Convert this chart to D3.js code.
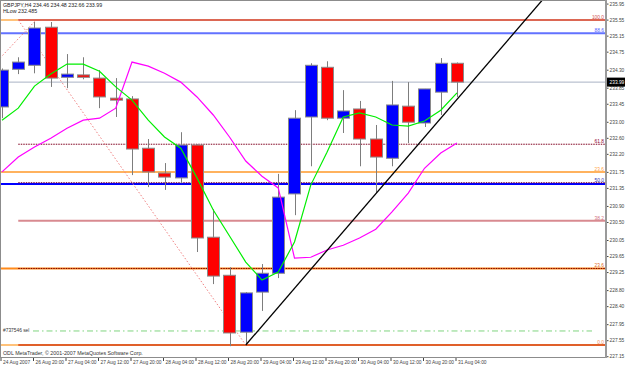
<!DOCTYPE html>
<html>
<head>
<meta charset="utf-8">
<script src="https://cdn.jsdelivr.net/npm/d3@7"></script>
<style>
body { margin: 0; background: #fff; }
svg { display: block; font-family: "Liberation Sans", Arial, sans-serif; }
</style>
</head>
<body>
<svg id="chart" width="625" height="367"></svg>
<script>
// GBPJPY H4 candles, index 0 = leftmost (cut) bar
const opens  = [233.37, 234.31, 234.41, 235.36, 234.11, 234.17, 234.09, 233.59, 233.57, 232.34, 231.72, 231.60, 232.42, 230.12, 229.17, 227.75, 228.75, 229.22, 231.20, 233.12, 234.36, 233.09, 233.32, 232.57, 232.09, 233.39, 232.97, 233.74, 234.46];
const highs  = [234.33, 234.61, 235.49, 235.49, 234.69, 234.61, 234.29, 234.09, 233.64, 232.57, 231.97, 232.74, 232.44, 230.82, 229.37, 228.75, 229.45, 231.70, 233.29, 234.46, 234.51, 233.79, 233.52, 232.92, 234.02, 233.99, 233.82, 234.59, 234.48];
const lows   = [233.09, 234.19, 234.21, 233.87, 233.84, 234.06, 233.34, 233.12, 231.67, 231.37, 231.30, 231.47, 229.75, 228.95, 227.40, 227.43, 228.28, 229.10, 230.67, 231.89, 233.04, 232.72, 231.89, 231.22, 231.89, 232.47, 232.87, 233.17, 233.62];
const closes = [234.29, 234.49, 235.34, 234.09, 234.19, 234.11, 233.62, 233.54, 232.32, 231.75, 231.62, 232.42, 230.10, 229.15, 227.73, 228.73, 229.22, 231.12, 233.09, 234.41, 233.09, 233.27, 232.57, 232.12, 233.42, 232.99, 233.82, 234.46, 233.99];

// moving averages (green fast, magenta slow)
const fastMA = [233.04, 233.34, 233.89, 234.19, 234.44, 234.44, 234.26, 233.87, 233.54, 233.04, 232.62, 232.34, 231.60, 230.80, 230.15, 229.50, 229.05, 229.25, 230.00, 231.42, 232.24, 233.12, 233.22, 233.12, 232.92, 232.89, 233.02, 233.29, 233.72];
const slowMA = [231.75, 232.12, 232.37, 232.59, 232.84, 233.04, 233.09, 233.34, 234.49, 234.39, 234.21, 233.99, 233.62, 233.17, 232.62, 232.02, 231.64, 231.35, 229.60, 229.62, 229.80, 229.92, 230.10, 230.32, 230.75, 231.22, 231.84, 232.22, 232.47];

const timeTicks = [0, 2, 4, 6, 8, 10, 12, 14, 16, 18, 20, 22, 24, 26, 28];
const timeLabels = ["24 Aug 2007", "26 Aug 20:00", "27 Aug 04:00", "27 Aug 12:00", "27 Aug 20:00", "28 Aug 04:00", "28 Aug 12:00", "28 Aug 20:00", "29 Aug 04:00", "29 Aug 12:00", "29 Aug 20:00", "30 Aug 04:00", "30 Aug 12:00", "30 Aug 20:00", "31 Aug 04:00"];
const priceTicks = [235.95, 235.55, 235.15, 234.75, 234.30, 233.85, 233.45, 233.00, 232.60, 232.20, 231.75, 231.35, 230.90, 230.50, 230.05, 229.65, 229.25, 228.80, 228.40, 227.95, 227.55, 227.15];

// fibonacci retracement drawn from bar 1 high to bar 15 low
const fibLabels = ["0.0", "23.6", "38.2", "50.0", "61.8", "100.0"];
const fibPrices = [227.43, 229.34, 230.53, 231.48, 232.44, 235.54];
const fibStart = 1;
const fibLow = 15;

// other horizontal objects
const extraLabels = ["88.6", "23.6"];
const extraPrices = [235.21, 231.745];
const blueLine = 231.45;
const lastPrice = 233.99;
const selPrice = 227.78;

const trendLine = [[15, 227.43], [34, 236.39]];
const oldDiag = [[-0.12, 234.59], [2.09, 235.54]];

const header1 = "GBPJPY,H4 234.46 234.48 232.66 233.99";
const header2 = "HLow 232.485";
const selLabel = "#737546 sel";
const copyright = "ODL MetaTrader, \u00a9 2001-2007 MetaQuotes Software Corp.";

const svg = d3.select("#chart");
const plotW = 606;
const plotH = 357;
const fs = 5.3;
const fsAxis = 4.85;

const xScale = d3.scaleLinear().domain([0, 28]).range([2, 457]);
const yScale = d3.scaleLinear().domain([227.43, 235.54]).range([345, 20]);
const bodyW = (xScale(1) - xScale(0)) * 0.74;

svg.append("rect").attr("width", 625).attr("height", 367).attr("fill", "#fff");

svg.append("defs").append("clipPath").attr("id", "clip")
    .append("rect").attr("x", 0).attr("y", 0).attr("width", plotW).attr("height", plotH);

const g = svg.append("g").attr("clip-path", "url(#clip)");

const hline = (price, color, w, x0, dash) => {
    const l = g.append("line")
        .attr("x1", x0).attr("x2", plotW)
        .attr("y1", yScale(price)).attr("y2", yScale(price))
        .attr("stroke", color).attr("stroke-width", w);
    if (dash) l.attr("stroke-dasharray", dash);
    return l;
};

// background horizontal lines
hline(lastPrice, "#a9b3c4", 1, 0);
hline(fibPrices[5], "#ffc27a", 2, 0);
hline(fibPrices[0], "#ffc27a", 2, 0);
hline(extraPrices[0], "#6272ff", 2, 0);
hline(extraPrices[1], "#ffb25e", 2, 0);
hline(blueLine, "#0000ff", 2, 0);
hline(fibPrices[1], "#ff8a1a", 2, 0);

const fx = xScale(fibStart);
const fibStyle = {
    "0.0": ["#e0602a", 2, null],
    "23.6": ["#7a0000", 1, "1.5,1"],
    "38.2": ["#d88a90", 2, null],
    "50.0": ["#7a0030", 1, "1.5,1"],
    "61.8": ["#800020", 1, "1.5,1"],
    "100.0": ["#d04848", 1.6, null]
};
fibPrices.forEach((p, i) => {
    const s = fibStyle[fibLabels[i]];
    hline(p, s[0], s[1], fx, s[2]);
});

// selection line
g.append("line")
    .attr("x1", 33).attr("x2", 592)
    .attr("y1", yScale(selPrice)).attr("y2", yScale(selPrice))
    .attr("stroke", "#7fd47f").attr("stroke-width", 1)
    .attr("stroke-dasharray", "6,3,1.5,3");

// fib diagonals
const lineGen = d3.line().x(d => xScale(d[0])).y(d => yScale(d[1]));
g.append("path")
    .attr("d", lineGen([[fibStart, fibPrices[5]], [fibLow, fibPrices[0]]]))
    .attr("fill", "none").attr("stroke", "#f08080").attr("stroke-width", 1)
    .attr("stroke-dasharray", "1.5,2");
g.append("path")
    .attr("d", lineGen(oldDiag))
    .attr("fill", "none").attr("stroke", "#f08080").attr("stroke-width", 1)
    .attr("stroke-dasharray", "1.5,2");

// candles
const candles = d3.range(opens.length).map(i => ({
    i, o: opens[i], h: highs[i], l: lows[i], c: closes[i]
}));

g.selectAll(".wick").data(candles).enter()
    .append("line")
    .attr("class", "wick")
    .attr("x1", d => Math.round(xScale(d.i)) + 0.5)
    .attr("x2", d => Math.round(xScale(d.i)) + 0.5)
    .attr("y1", d => yScale(d.h))
    .attr("y2", d => yScale(d.l))
    .attr("stroke", "#7d7d7d").attr("stroke-width", 1);

g.selectAll(".body").data(candles).enter()
    .append("rect")
    .attr("class", "body")
    .attr("x", d => Math.round(xScale(d.i) - bodyW / 2) + 0.5)
    .attr("y", d => yScale(Math.max(d.o, d.c)))
    .attr("width", Math.round(bodyW))
    .attr("height", d => Math.max(2, Math.abs(yScale(d.o) - yScale(d.c))))
    .attr("fill", d => d.c >= d.o ? "#0000ff" : "#ff0000")
    .attr("stroke", "#8a8a8a").attr("stroke-width", 1);

// moving averages
const maLine = d3.line().x((d, i) => xScale(i)).y(d => yScale(d));
g.append("path").attr("d", maLine(slowMA))
    .attr("fill", "none").attr("stroke", "#ff00ff").attr("stroke-width", 1.2);
g.append("path").attr("d", maLine(fastMA))
    .attr("fill", "none").attr("stroke", "#00ee00").attr("stroke-width", 1.2);

// trend line
g.append("path").attr("d", lineGen(trendLine))
    .attr("fill", "none").attr("stroke", "#000").attr("stroke-width", 1.3);

// fib level labels on right end
const labelColor = {
    "0.0": "#f09060", "23.6": "#e06a20", "38.2": "#d07080",
    "50.0": "#3030b0", "61.8": "#900030", "100.0": "#d05050"
};
fibPrices.forEach((p, i) => {
    g.append("text")
        .attr("x", 604).attr("y", yScale(p) - 1)
        .attr("text-anchor", "end")
        .attr("font-size", fsAxis)
        .attr("fill", labelColor[fibLabels[i]])
        .text(fibLabels[i]);
});
const extraColor = ["#5060ff", "#ffa040"];
extraPrices.forEach((p, i) => {
    g.append("text")
        .attr("x", 604).attr("y", yScale(p) - 1)
        .attr("text-anchor", "end")
        .attr("font-size", fsAxis)
        .attr("fill", extraColor[i])
        .text(extraLabels[i]);
});

// frame
svg.append("line").attr("x1", 0.5).attr("x2", 0.5).attr("y1", 0).attr("y2", plotH)
    .attr("stroke", "#8c8c8c");
svg.append("line").attr("x1", 0).attr("x2", plotW).attr("y1", 0.5).attr("y2", 0.5)
    .attr("stroke", "#8c8c8c");
svg.append("line").attr("x1", 0).attr("x2", plotW + 1).attr("y1", plotH + 0.5).attr("y2", plotH + 0.5)
    .attr("stroke", "#8c8c8c");
svg.append("line").attr("x1", plotW).attr("x2", plotW).attr("y1", 0).attr("y2", plotH + 1)
    .attr("stroke", "#9a9a9a").attr("stroke-width", 2);

// price axis
const yAxis = d3.axisRight(yScale)
    .tickValues(priceTicks)
    .tickSize(1.5)
    .tickPadding(1)
    .tickFormat(d3.format(".2f"));
const yAxisG = svg.append("g")
    .attr("transform", `translate(${plotW + 1},0)`)
    .call(yAxis);
yAxisG.select(".domain").remove();
yAxisG.selectAll("line").attr("stroke", "#444");
yAxisG.selectAll("text").attr("font-size", fsAxis).attr("fill", "#444")
    .attr("font-family", "Liberation Sans, Arial, sans-serif");

// last price marker
const lp = svg.append("g").attr("transform", `translate(${plotW + 1},${yScale(lastPrice)})`);
lp.append("rect").attr("x", 0).attr("y", -4.5).attr("width", 18).attr("height", 9).attr("fill", "#000");
lp.append("text").attr("x", 2.5).attr("y", 1.8).attr("font-size", fsAxis).attr("fill", "#fff")
    .text(d3.format(".2f")(lastPrice));

// time axis
const xAxis = d3.axisBottom(xScale)
    .tickValues(timeTicks)
    .tickSize(3)
    .tickFormat((d, i) => timeLabels[i]);
const xAxisG = svg.append("g")
    .attr("transform", `translate(-1.5,${plotH + 1})`)
    .call(xAxis);
xAxisG.select(".domain").remove();
xAxisG.selectAll("line").attr("stroke", "#444");
xAxisG.selectAll("text")
    .attr("text-anchor", "start")
    .attr("dx", 2).attr("dy", 0).attr("y", 5.5)
    .attr("font-size", fsAxis).attr("fill", "#444")
    .attr("font-family", "Liberation Sans, Arial, sans-serif");

// texts
svg.append("text").attr("x", 3).attr("y", 7).attr("font-size", fs).attr("fill", "#222").text(header1);
svg.append("text").attr("x", 3).attr("y", 13).attr("font-size", fs).attr("fill", "#222").text(header2);
svg.append("text").attr("x", 3).attr("y", yScale(selPrice) + 1).attr("font-size", fsAxis).attr("fill", "#333").text(selLabel);
svg.append("text").attr("x", 3).attr("y", 355).attr("font-size", fs).attr("fill", "#333").text(copyright);
</script>
</body>
</html>
